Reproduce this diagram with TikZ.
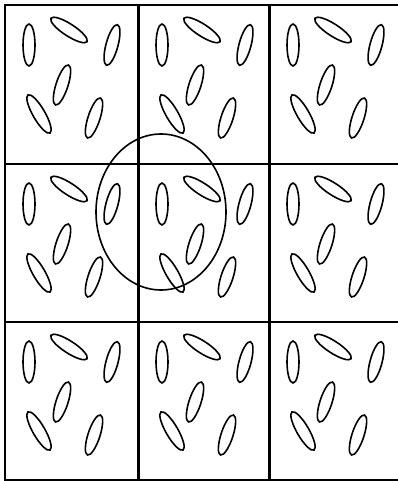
\documentclass[tikz,border=0pt]{standalone}
\usepackage{tikz}

\begin{document}
\begin{tikzpicture}[x=1pt, y=1pt,
  grid/.style={draw=black, line width=2pt},
  wall/.style={draw=black, line width=3pt},
  blob/.style={draw=black, line width=1.6pt},
  field/.style={draw=black, line width=1.6pt}]
\tikzset{cellpattern/.pic={
  \draw[blob, shift={(24,-40)},  rotate=90]  (0,0) ellipse (21 and 6);
  \draw[blob, shift={(64,-25)},  rotate=-33] (0,0) ellipse (21.5 and 6);
  \draw[blob, shift={(107,-40)}, rotate=75]  (0,0) ellipse (21 and 6);
  \draw[blob, shift={(57,-80)},  rotate=72]  (0,0) ellipse (21 and 6);
  \draw[blob, shift={(34,-109)}, rotate=120] (0,0) ellipse (22 and 6);
  \draw[blob, shift={(89,-113)}, rotate=72]  (0,0) ellipse (21 and 6);}}
\useasboundingbox (0,0) rectangle (398,-481);
% cell contents
\foreach \cx in {5,138,269}
  \foreach \cy in {5,164,322}
    \pic at (\cx,-\cy) {cellpattern};
% frame
\coordinate (tl) at (5,-5);
\coordinate (tr) at (398,-5);
\coordinate (bl) at (5,-480);
\coordinate (br) at (398,-480);
\draw[grid] (tr) -- (tl) -- (bl) -- (br);
\draw[grid] (5,-164) -- (398,-164);
\draw[grid] (5,-322) -- (398,-322);
\draw[wall] (138,-5) -- (138,-480);
\draw[wall] (269,-5) -- (269,-480);
% receptive field
\draw[field] (161,-212) ellipse (65 and 78);
\end{tikzpicture}
\end{document}
